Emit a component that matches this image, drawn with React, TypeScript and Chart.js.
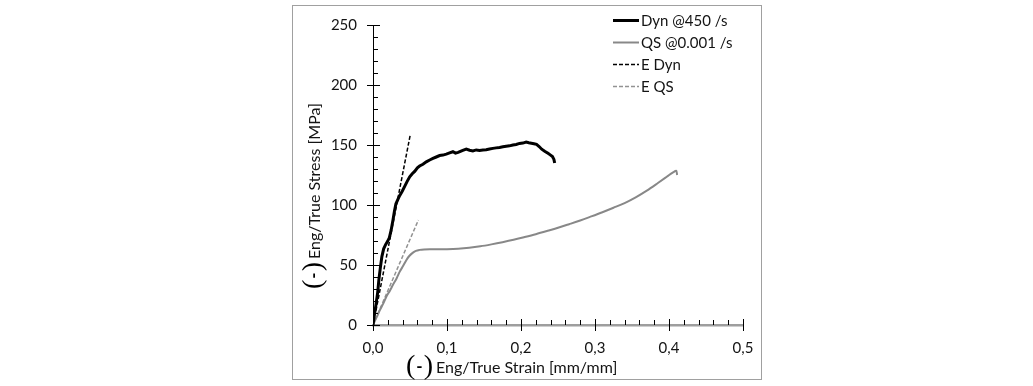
import React, { useEffect, useRef } from 'react';
import { Chart, registerables } from 'chart.js';

Chart.register(...registerables);

// ---------- data ----------
const dynCurve: [number, number][] = [
  [0, 0], [0.0018, 8], [0.004, 17], [0.0063, 27], [0.008, 38], [0.01, 48], [0.012, 57], [0.0144, 63.5],
  [0.017, 67], [0.0195, 69.5], [0.022, 72.5], [0.0245, 79], [0.027, 87.5], [0.029, 95], [0.031, 101],
  [0.0335, 104.5], [0.036, 107.8], [0.0395, 111.5], [0.0428, 115.5], [0.046, 119.5], [0.0496, 123.5],
  [0.053, 126], [0.0563, 128], [0.06, 131], [0.063, 132.5], [0.0675, 134], [0.072, 136], [0.0766, 137.5],
  [0.081, 138.8], [0.0855, 140], [0.09, 141.2], [0.0945, 141.6], [0.099, 142.4], [0.1035, 143.4],
  [0.108, 144.4], [0.1115, 143.2], [0.115, 143.8], [0.1205, 145.4], [0.126, 146.6], [0.1305, 145.6],
  [0.135, 145.1], [0.1395, 145.9], [0.144, 145.5], [0.1485, 145.9], [0.153, 146], [0.1575, 146.7],
  [0.162, 147.2], [0.1665, 147.6], [0.171, 148], [0.1755, 148.5], [0.18, 149], [0.1845, 149.3],
  [0.189, 150], [0.1935, 150.4], [0.198, 151.3], [0.2025, 151.6], [0.207, 152.5], [0.2105, 151.9],
  [0.214, 151.5], [0.2175, 151.1], [0.221, 150.5], [0.2245, 148.7], [0.228, 146.5], [0.2325, 144.6],
  [0.2365, 143.1], [0.2395, 141.8], [0.2425, 140.4], [0.2445, 138], [0.2455, 135],
];

const qsCurve: [number, number][] = [
  [0, 0], [0.005, 6.5], [0.009, 12], [0.014, 18], [0.018, 23.5], [0.023, 28.8], [0.027, 33.5], [0.032, 39],
  [0.036, 44.3], [0.041, 49.5], [0.045, 54], [0.049, 57.5], [0.054, 60.3], [0.058, 61.8], [0.063, 62.6],
  [0.069, 63], [0.077, 63.1], [0.088, 63.1], [0.1, 63.2], [0.115, 63.6], [0.13, 64.4], [0.145, 65.6],
  [0.16, 67.2], [0.175, 69], [0.19, 71], [0.205, 73.3], [0.22, 75.7], [0.235, 78.3], [0.25, 81],
  [0.265, 84], [0.28, 87.1], [0.295, 90.5], [0.31, 94], [0.325, 97.7], [0.34, 101.6], [0.355, 106.4],
  [0.37, 112], [0.385, 118.3], [0.397, 123.5], [0.405, 127], [0.41, 128.5], [0.411, 125],
];

const eDynLine: [number, number][] = [[0.004, 12], [0.0505, 159]];
const eQsLine: [number, number][] = [[0, 0], [0.0613, 87.5]];

const seriesLabels = ['Dyn @450 /s', 'QS @0.001 /s', 'E Dyn', 'E QS'];
const xTitle = 'Eng/True Strain [mm/mm]';
const yTitle = 'Eng/True Stress [MPa]';
const unitMark = '-';

const xRange = [0, 0.5];
const xMajorStep = 0.1;
const xMinorStep = 0.02;
const yRange = [0, 250];
const yMajorStep = 50;
const yMinorStep = 10;

// ---------- styles ----------
const SANS = 'Lato, "Open Sans", sans-serif';
const SERIF = '"Liberation Serif", "DejaVu Serif", serif';
const TEXT = '#141414';
const GREY = '#888888';
const GREY_DASH = '#929292';

const seriesStyles = [
  { color: '#000000', width: 3, dash: [] as number[] },
  { color: GREY, width: 2, dash: [] as number[] },
  { color: '#000000', width: 1.5, dash: [4, 2] },
  { color: GREY_DASH, width: 1.5, dash: [4, 2] },
];

const toPoints = (arr: [number, number][]) => arr.map(([x, y]) => ({ x, y }));

const isMultiple = (v: number, step: number) => {
  const r = v / step;
  return Math.abs(r - Math.round(r)) < 1e-6;
};

function drawAxisTitle(ctx: CanvasRenderingContext2D, start: number, baseline: number, text: string) {
  // large serif parentheses with a bold dash, then the title text
  const parenMid = baseline - 6;
  ctx.save();
  ctx.fillStyle = '#000';
  ctx.textBaseline = 'middle';
  ctx.font = `28px ${SERIF}`;
  ctx.textAlign = 'left';
  ctx.fillText('(', start, parenMid);
  ctx.textAlign = 'right';
  ctx.fillText(')', start + 27, parenMid);
  ctx.font = `bold 17px ${SANS}`;
  ctx.textAlign = 'center';
  ctx.fillText(unitMark, start + 13.5, parenMid);
  ctx.font = `16px ${SANS}`;
  ctx.fillStyle = TEXT;
  ctx.textAlign = 'left';
  ctx.textBaseline = 'alphabetic';
  ctx.fillText(text, start + 30, baseline);
  ctx.restore();
}

const decorPlugin = {
  id: 'decor',
  beforeDraw(chart: any) {
    const ctx = chart.ctx as CanvasRenderingContext2D;
    ctx.save();
    ctx.strokeStyle = '#a0a0a0';
    ctx.lineWidth = 1;
    ctx.strokeRect(292.5, 5.5, 469, 374);
    ctx.restore();
  },
  afterDraw(chart: any) {
    const ctx = chart.ctx as CanvasRenderingContext2D;
    const xs = chart.scales.x;
    const ys = chart.scales.y;
    const area = chart.chartArea;
    ctx.save();
    ctx.strokeStyle = '#000';
    ctx.lineWidth = 1;
    // y ticks: major cross the axis, minor inside
    ys.ticks.forEach((t: any) => {
      const py = Math.round(ys.getPixelForValue(t.value)) + 0.5;
      const major = isMultiple(t.value, yMajorStep);
      ctx.beginPath();
      ctx.moveTo(area.left - (major ? 6 : 0), py);
      ctx.lineTo(area.left + (major ? 7 : 5), py);
      ctx.stroke();
    });
    // x ticks
    xs.ticks.forEach((t: any) => {
      const px = Math.round(xs.getPixelForValue(t.value)) + 0.5;
      const major = isMultiple(t.value, xMajorStep);
      ctx.beginPath();
      ctx.moveTo(px, area.bottom - (major ? 6 : 5));
      ctx.lineTo(px, area.bottom + (major ? 6 : 0));
      ctx.stroke();
    });
    ctx.restore();

    // legend
    const rows = [20, 42, 64, 86];
    ctx.save();
    seriesLabels.forEach((label, i) => {
      const st = seriesStyles[i];
      ctx.strokeStyle = st.color;
      ctx.lineWidth = st.width;
      ctx.setLineDash(st.dash);
      ctx.beginPath();
      ctx.moveTo(613, rows[i] + 0.5);
      ctx.lineTo(639, rows[i] + 0.5);
      ctx.stroke();
      ctx.setLineDash([]);
      ctx.fillStyle = TEXT;
      ctx.font = `15px ${SANS}`;
      ctx.textAlign = 'left';
      ctx.textBaseline = 'middle';
      ctx.fillText(label, 641, rows[i] + 1);
    });
    ctx.restore();

    // axis titles
    drawAxisTitle(ctx, 406, 373, xTitle);
    ctx.save();
    ctx.rotate(-Math.PI / 2);
    drawAxisTitle(ctx, -289, 320, yTitle);
    ctx.restore();
  },
};

export default function App() {
  const canvasRef = useRef<HTMLCanvasElement | null>(null);

  useEffect(() => {
    const canvas = canvasRef.current;
    if (!canvas) return;
    const datasets = [dynCurve, qsCurve, eDynLine, eQsLine].map((arr, i) => ({
      label: seriesLabels[i],
      data: toPoints(arr),
      borderColor: seriesStyles[i].color,
      borderWidth: seriesStyles[i].width,
      borderDash: seriesStyles[i].dash,
      pointRadius: 0,
      fill: false,
      tension: 0,
      cubicInterpolationMode: i === 1 ? ('monotone' as const) : ('default' as const),
    }));
    const tickFont = { family: SANS, size: 15 };
    const chart = new Chart(canvas, {
      type: 'line',
      data: { datasets },
      options: {
        animation: false,
        responsive: false,
        layout: { padding: { left: 323, right: 290, top: 25, bottom: 31 } },
        plugins: { legend: { display: false }, tooltip: { enabled: false } },
        scales: {
          x: {
            type: 'linear',
            min: xRange[0],
            max: xRange[1],
            afterFit: (s: any) => { s.height = 30; },
            grid: { display: false, drawTicks: false, tickLength: 0 },
            border: { display: true, color: '#9e9e9e', width: 2.5 },
            ticks: {
              stepSize: xMinorStep,
              autoSkip: false,
              maxRotation: 0,
              padding: 14,
              color: TEXT,
              font: tickFont,
              callback: (v: any) => (isMultiple(Number(v), xMajorStep) ? Number(v).toFixed(1).replace('.', ',') : ''),
            },
          },
          y: {
            type: 'linear',
            min: yRange[0],
            max: yRange[1],
            afterFit: (s: any) => { s.width = 50; },
            grid: { display: false, drawTicks: false, tickLength: 0 },
            border: { display: true, color: '#000', width: 1 },
            ticks: {
              stepSize: yMinorStep,
              autoSkip: false,
              padding: 16,
              color: TEXT,
              font: tickFont,
              callback: (v: any) => (isMultiple(Number(v), yMajorStep) ? String(v) : ''),
            },
          },
        },
      },
      plugins: [decorPlugin],
    });
    return () => chart.destroy();
  }, []);

  return (
    <div style={{ position: 'absolute', left: 0, top: 0, width: 1033, height: 386, background: '#fff' }}>
      <canvas ref={canvasRef} width={1033} height={386} style={{ display: 'block' }} />
    </div>
  );
}
